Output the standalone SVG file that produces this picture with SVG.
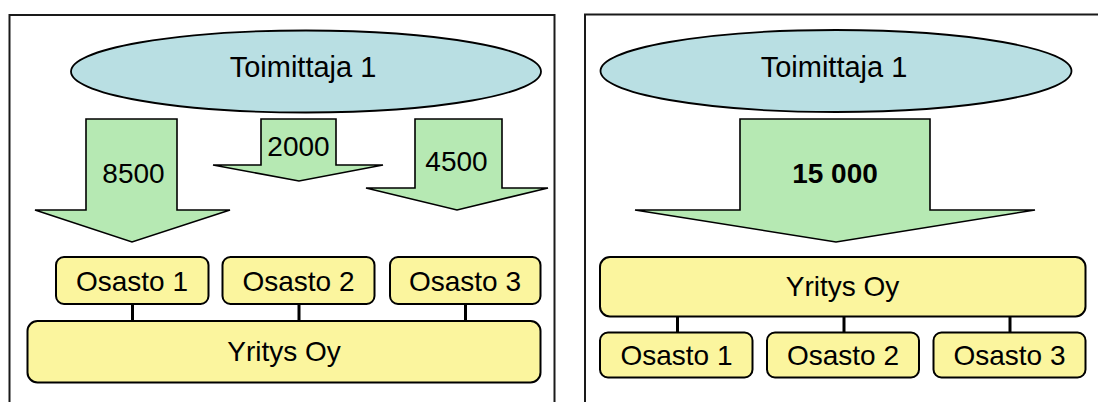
<svg xmlns="http://www.w3.org/2000/svg" width="1098" height="402" viewBox="0 0 1098 402">
<style>
.panel{fill:#ffffff;stroke:#1a1a1a;stroke-width:2}
.sup{fill:#b9dfe3;stroke:#000;stroke-width:1.8}
.arr{fill:#b6e9b3;stroke:#000;stroke-width:1.6;stroke-linejoin:miter}
.box{fill:#fbf59e;stroke:#000;stroke-width:2}
.con{stroke:#000;stroke-width:3;fill:none}
text{font-family:"Liberation Sans",Arial,sans-serif;fill:#000;text-anchor:middle}
.t31{font-size:29px}
.t28{font-size:28px}
.b{font-weight:bold}
</style>
<rect width="1098" height="402" fill="#ffffff"/>
<g id="panel-left"><rect class="panel" x="9.5" y="15" width="545" height="400"/></g>
<g id="panel-right"><rect class="panel" x="585" y="14.5" width="530" height="400"/></g>

<g id="connectors">
<line class="con" x1="132.5" y1="304" x2="132.5" y2="321"/>
<line class="con" x1="299" y1="304" x2="299" y2="321"/>
<line class="con" x1="465.5" y1="304" x2="465.5" y2="321"/>
<line class="con" x1="677.5" y1="316.5" x2="677.5" y2="332.5"/>
<line class="con" x1="844" y1="316.5" x2="844" y2="332.5"/>
<line class="con" x1="1010" y1="316.5" x2="1010" y2="332.5"/>
</g>

<g id="supplier-left"><ellipse class="sup" cx="306" cy="71.5" rx="235" ry="41"/><text class="t31" x="303" y="77">Toimittaja 1</text></g>
<g id="arrow-8500"><polygon class="arr" points="86,119 177,119 177,210 230,210 132,242 35,210 86,210"/><text class="t28" x="133.5" y="183">8500</text></g>
<g id="arrow-2000"><polygon class="arr" points="261,119 336,119 336,165 383,165 299,181 213,165 261,165"/><text class="t28" x="298.5" y="156">2000</text></g>
<g id="arrow-4500"><polygon class="arr" points="415,119 502,119 502,188 548,188 457,210 366,188 415,188"/><text class="t28" x="456.5" y="171">4500</text></g>
<g id="osasto1-left"><rect class="box" x="56" y="257" width="152.5" height="47" rx="8"/><text class="t28" x="132" y="291">Osasto 1</text></g>
<g id="osasto2-left"><rect class="box" x="222.5" y="257" width="152" height="47" rx="8"/><text class="t28" x="298.5" y="291">Osasto 2</text></g>
<g id="osasto3-left"><rect class="box" x="390" y="257" width="150.5" height="47" rx="8"/><text class="t28" x="465" y="291">Osasto 3</text></g>
<g id="yritys-left"><rect class="box" x="27.5" y="321" width="513" height="61.5" rx="10"/><text class="t28" x="284" y="361">Yritys Oy</text></g>

<g id="supplier-right"><ellipse class="sup" cx="836" cy="71" rx="235.5" ry="41"/><text class="t31" x="834" y="77">Toimittaja 1</text></g>
<g id="arrow-15000"><polygon class="arr" points="740,119 930,119 930,210 1035,210 836,242 635,210 740,210"/><text class="t28 b" x="835" y="183">15 000</text></g>
<g id="yritys-right"><rect class="box" x="600" y="257" width="485.5" height="59.5" rx="10"/><text class="t28" x="842.5" y="296">Yritys Oy</text></g>
<g id="osasto1-right"><rect class="box" x="600" y="332.5" width="152.5" height="45" rx="8"/><text class="t28" x="676.5" y="365">Osasto 1</text></g>
<g id="osasto2-right"><rect class="box" x="767" y="332.5" width="152" height="45" rx="8"/><text class="t28" x="843" y="365">Osasto 2</text></g>
<g id="osasto3-right"><rect class="box" x="933.5" y="332.5" width="152" height="45" rx="8"/><text class="t28" x="1009.5" y="365">Osasto 3</text></g>
</svg>
